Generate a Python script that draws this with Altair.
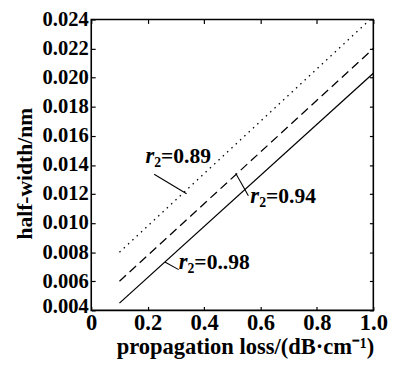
import altair as alt
import pandas as pd

# ---- data ----
loss = [0.1, 1.0]
hw_098 = [0.0045, 0.0203]
hw_094 = [0.0060, 0.0220]
hw_089 = [0.0080, 0.0242]

x_ticks = [0, 0.2, 0.4, 0.6, 0.8, 1.0]
y_ticks = [0.004, 0.006, 0.008, 0.010, 0.012, 0.014, 0.016, 0.018, 0.020, 0.022, 0.024]

ann_x = [0.192, 0.564, 0.31]
ann_y = [0.01457, 0.01188, 0.0073]
ann_rest = ["=0.89", "=0.94", "=0..98"]
lead_x1 = [0.223, 0.512, 0.261]
lead_y1 = [0.01336, 0.01343, 0.00733]
lead_x2 = [0.338, 0.557, 0.31]
lead_y2 = [0.01202, 0.01188, 0.0068]

FONT = "Liberation Serif"
W, H = 288, 297

xs = alt.Scale(domain=[0, 1.0], nice=False)
ys = alt.Scale(domain=[0.004, 0.024], nice=False)

x_main = alt.Axis(orient="bottom", values=x_ticks, ticks=False, domain=False, grid=False,
                  labelExpr="datum.value == 0 ? '0' : format(datum.value, '.1f')",
                  labelFont=FONT, labelFontSize=23, labelFontWeight="bold", labelColor="black",
                  labelPadding=2, labelFlush=False, labelOverlap=False,
                  title="propagation loss/(dB·cm⁻¹)", titleFont=FONT, titleFontSize=23,
                  titleFontWeight="bold", titleColor="black", titlePadding=1, titleX=157)
y_main = alt.Axis(orient="left", values=y_ticks, ticks=False, domain=False, grid=False,
                  format=".3f", labelFont=FONT, labelFontSize=21, labelFontWeight="bold",
                  labelColor="black", labelPadding=3, labelFlush=False, labelOverlap=False,
                  labelOffset={"condition": {"test": "datum.value < 0.005", "value": -4}, "value": 0},
                  title="half-width/nm", titleFont=FONT, titleFontSize=22,
                  titleFontWeight="bold", titleColor="black", titlePadding=6, titleY=157)

def tick_axis(orient, values, offset):
    return alt.Axis(orient=orient, values=values, labels=False, domain=False, grid=False,
                    ticks=True, tickSize=4, tickColor="black", tickWidth=1.2,
                    offset=offset, title=None)

df98 = pd.DataFrame({"loss": loss, "hw": hw_098})
df94 = pd.DataFrame({"loss": loss, "hw": hw_094})
df89 = pd.DataFrame({"loss": loss, "hw": hw_089})

line98 = alt.Chart(df98).mark_line(color="black", strokeWidth=1.3, clip=True).encode(
    x=alt.X("loss:Q", scale=xs, axis=x_main),
    y=alt.Y("hw:Q", scale=ys, axis=y_main))
line94 = alt.Chart(df94).mark_line(color="black", strokeWidth=1.3, strokeDash=[9, 5], clip=True).encode(
    x=alt.X("loss:Q", scale=xs, axis=tick_axis("top", x_ticks, -H)),
    y=alt.Y("hw:Q", scale=ys, axis=tick_axis("right", y_ticks, -W)))
line89 = alt.Chart(df89).mark_line(color="black", strokeWidth=1.3, strokeDash=[1.5, 4.5], clip=True).encode(
    x=alt.X("loss:Q", scale=xs, axis=tick_axis("bottom", x_ticks, -H)),
    y=alt.Y("hw:Q", scale=ys, axis=tick_axis("left", y_ticks, -W)))

ann = pd.DataFrame({"x": ann_x, "y": ann_y, "rest": ann_rest,
                    "r": ["r"] * 3, "sub": ["2"] * 3})
lead = pd.DataFrame({"x1": lead_x1, "y1": lead_y1, "x2": lead_x2, "y2": lead_y2})

leaders = alt.Chart(lead).mark_rule(color="black", strokeWidth=1.1).encode(
    x=alt.X("x1:Q", scale=xs, axis=None), y=alt.Y("y1:Q", scale=ys, axis=None),
    x2="x2:Q", y2="y2:Q")

base = alt.Chart(ann).encode(x=alt.X("x:Q", scale=xs, axis=None), y=alt.Y("y:Q", scale=ys, axis=None))
t_r = base.mark_text(font=FONT, fontSize=23, fontWeight="bold", fontStyle="italic",
                     align="left", baseline="middle", color="black").encode(text="r:N")
t_sub = base.mark_text(font=FONT, fontSize=14, fontWeight="bold", align="left",
                       baseline="middle", color="black", dx=9, dy=7).encode(text="sub:N")
t_rest = base.mark_text(font=FONT, fontSize=22, fontWeight="bold", align="left",
                        baseline="middle", color="black", dx=16).encode(text="rest:N")

chart = alt.layer(line98, line94, line89, leaders, t_r, t_sub, t_rest).resolve_axis(
    x="independent", y="independent"
).properties(
    width=W, height=H,
    autosize=alt.AutoSizeParams(type="none"),
    padding={"left": 85, "top": 8, "right": 16, "bottom": 50},
).configure_view(stroke="black", strokeWidth=1.6)

chart.save("out.html", embed_options={"renderer": "svg", "actions": False})
